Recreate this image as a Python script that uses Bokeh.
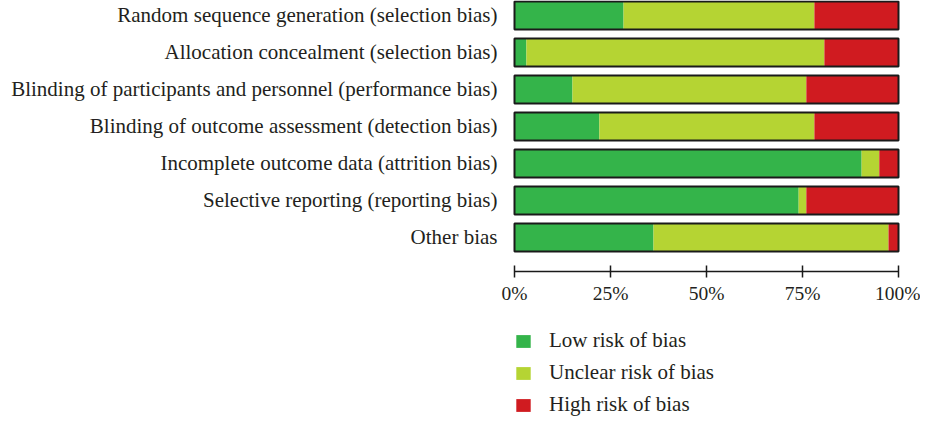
from bokeh.plotting import figure
from bokeh.layouts import column
from bokeh.models import (ColumnDataSource, FixedTicker, PrintfTickFormatter,
                          Legend, LegendItem, Range1d)
from bokeh.embed import file_html
from bokeh.resources import INLINE

categories = [
    "Random sequence generation (selection bias)",
    "Allocation concealment (selection bias)",
    "Blinding of participants and personnel (performance bias)",
    "Blinding of outcome assessment (detection bias)",
    "Incomplete outcome data (attrition bias)",
    "Selective reporting (reporting bias)",
    "Other bias",
]
low = [28.4, 3.1, 15.1, 22.1, 90.4, 74.0, 36.2]
unclear = [49.7, 77.6, 60.9, 56.0, 4.6, 2.0, 61.2]
high = [21.9, 19.3, 24.0, 21.9, 5.0, 24.0, 2.6]
x_ticks = [0, 25, 50, 75, 100]
series_labels = ["Low risk of bias", "Unclear risk of bias", "High risk of bias"]
colors = ["#34b44a", "#b5d433", "#d01b20"]

FONT = "Liberation Serif"
TXT = "#231f20"

n = len(categories)
ypos = [n - 1 - i for i in range(n)]
total = [a + b + c for a, b, c in zip(low, unclear, high)]
src = ColumnDataSource(dict(y=ypos, low=low, unclear=unclear, high=high, total=total))
stack_cols = ["low", "unclear", "high"]
bar_h = 0.757

# ---- main chart ----
p = figure(width=920, height=310,
           x_range=Range1d(-0.52, 100.52),
           y_range=Range1d(-0.919, n - 1 + 0.405),
           output_backend="svg", toolbar_location=None,
           min_border_left=512, min_border_right=20,
           min_border_top=0, min_border_bottom=39)

p.hbar_stack(stack_cols, y="y", height=bar_h,
             fill_color=colors, line_color=None, source=src)
p.hbar(y="y", left=0, right="total", height=bar_h, fill_color=None,
       line_color="#1a1a1a", line_width=2, source=src)

p.xgrid.visible = False
p.ygrid.visible = False
p.outline_line_color = None
p.background_fill_color = "white"
p.border_fill_color = "white"

xa = p.xaxis[0]
xa.ticker = FixedTicker(ticks=x_ticks)
xa.formatter = PrintfTickFormatter(format="%d%%")
xa.bounds = (0, 100)
xa.axis_line_color = "#1a1a1a"
xa.axis_line_width = 1.5
xa.major_tick_line_color = "#1a1a1a"
xa.major_tick_line_width = 1.5
xa.major_tick_in = 6
xa.major_tick_out = 6
xa.minor_tick_line_color = None
xa.major_label_text_font = FONT
xa.major_label_text_font_size = "19.5px"
xa.major_label_text_color = TXT
xa.major_label_standoff = 5

ya = p.yaxis[0]
ya.ticker = FixedTicker(ticks=ypos)
ya.major_label_overrides = {y: c for y, c in zip(ypos, categories)}
ya.axis_line_color = None
ya.major_tick_line_color = None
ya.minor_tick_line_color = None
ya.major_tick_in = 0
ya.major_tick_out = 0
ya.major_label_text_font = FONT
ya.major_label_text_font_size = "21px"
ya.major_label_text_color = TXT
ya.major_label_standoff = 15

# ---- legend strip (same stacked renderers, viewed outside their data range) ----
p2 = figure(width=920, height=106, x_axis_type=None, y_axis_type=None,
            x_range=Range1d(-0.52, 100.52),
            y_range=Range1d(n + 5, n + 6),
            output_backend="svg", toolbar_location=None,
            min_border_left=512, min_border_right=20,
            min_border_top=0, min_border_bottom=0)
p2.outline_line_color = None
p2.background_fill_color = "white"
p2.border_fill_color = "white"
keys = p2.hbar_stack(stack_cols, y="y", height=bar_h,
                     fill_color=colors, line_color=None, source=src)

legend = Legend(
    items=[LegendItem(label=lab, renderers=[r]) for lab, r in zip(series_labels, keys)],
    location=(2, -1), orientation="vertical",
    glyph_width=18, glyph_height=16, label_standoff=17, spacing=7,
    padding=0, margin=0, border_line_color=None, background_fill_alpha=0,
    label_text_font=FONT, label_text_font_size="21px", label_text_color=TXT,
)
p2.add_layout(legend, "center")

layout = column(p, p2, spacing=0)
open("out.html", "w").write(file_html(layout, INLINE))
